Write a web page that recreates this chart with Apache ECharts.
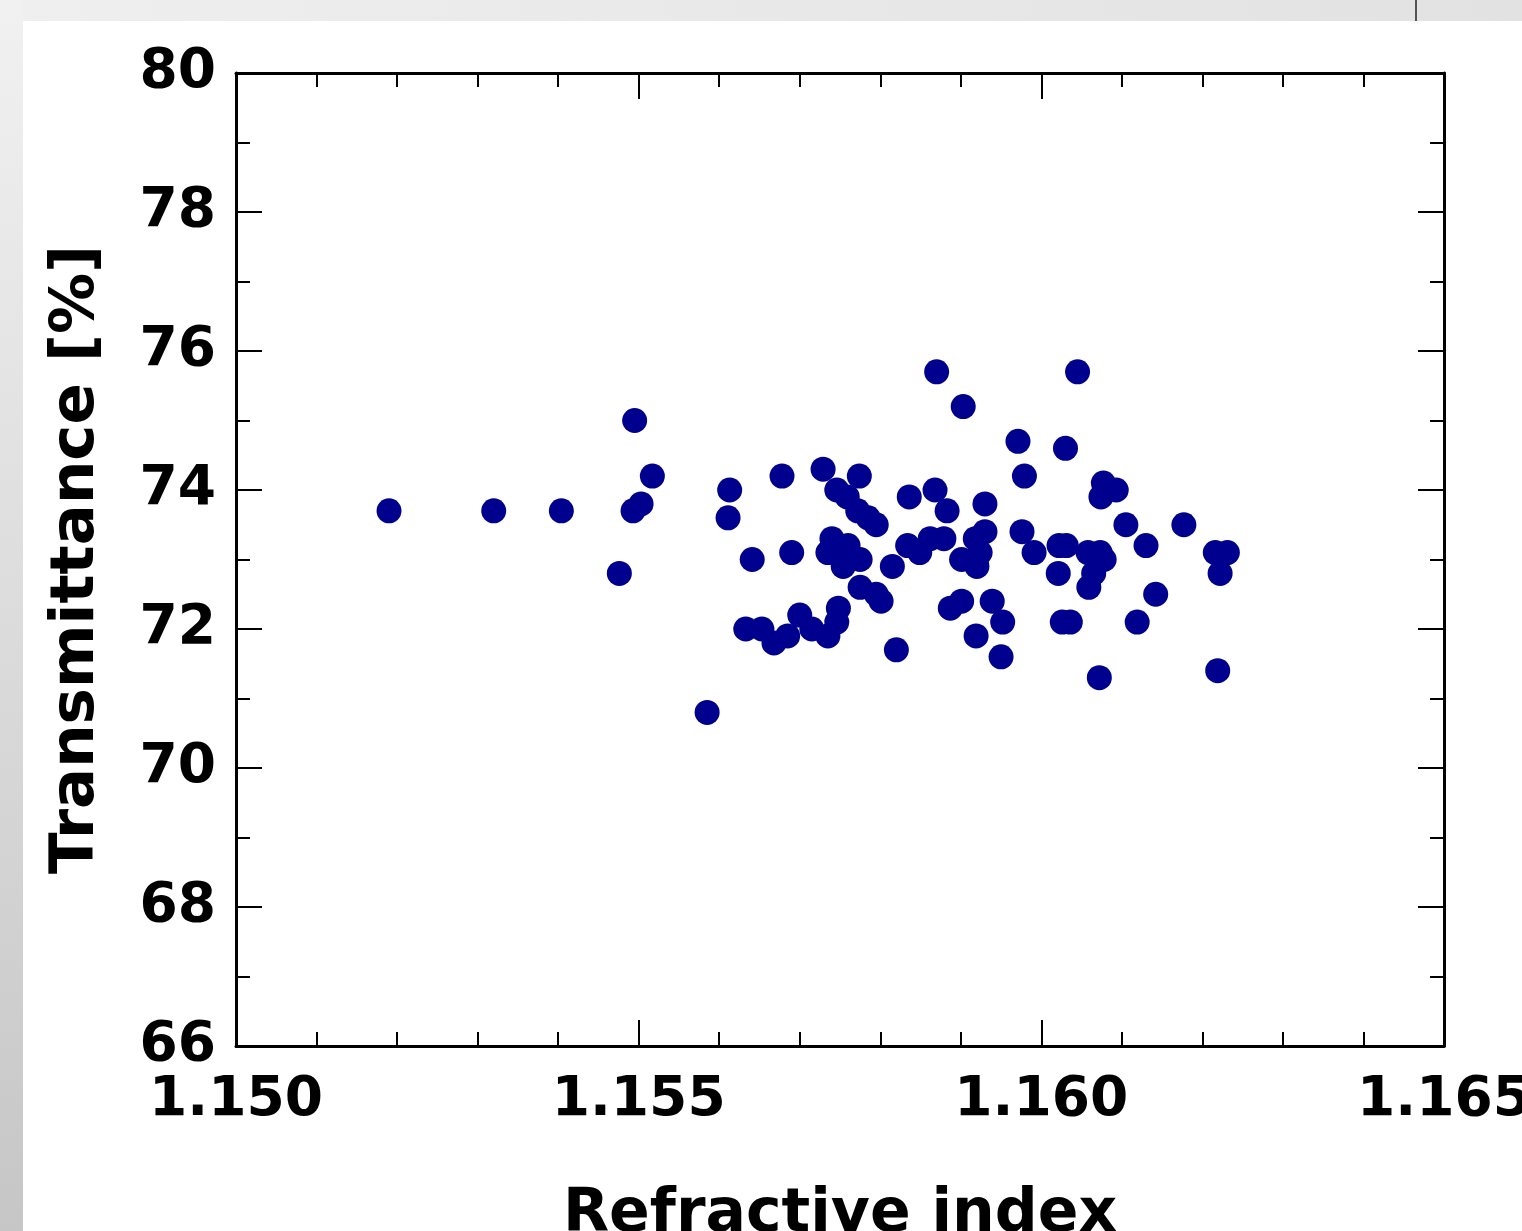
<!DOCTYPE html>
<html>
<head>
<meta charset="utf-8">
<script src="https://cdn.jsdelivr.net/npm/echarts@6/dist/echarts.min.js"></script>
<style>
html,body{margin:0;padding:0;background:#fff;overflow:hidden;}
#chart{width:1522px;height:1231px;}
</style>
</head>
<body>
<div id="chart"></div>
<script>
// Data
const refractiveIndex = [
  1.15190, 1.15320, 1.15404, 1.15495, 1.15517, 1.15503, 1.15493, 1.15476, 1.15585, 1.15613,
  1.15611, 1.15641, 1.15633, 1.15653, 1.15668, 1.15685, 1.15678, 1.15690, 1.15700, 1.15715,
  1.15735, 1.15746, 1.15748, 1.15729, 1.15746, 1.15759, 1.15774, 1.15772, 1.15785, 1.15795,
  1.15740, 1.15735, 1.15748, 1.15760, 1.15754, 1.15775, 1.15775, 1.15795, 1.15801, 1.15815,
  1.15820, 1.15836, 1.15834, 1.15849, 1.15862, 1.15868, 1.15870, 1.15879, 1.15883, 1.15887,
  1.15901, 1.15903, 1.15901, 1.15918, 1.15924, 1.15920, 1.15919, 1.15930, 1.15930, 1.15939,
  1.15952, 1.15950, 1.15971, 1.15979, 1.15976, 1.15991, 1.16022, 1.16021, 1.16030, 1.16031,
  1.16026, 1.16036, 1.16045, 1.16058, 1.16059, 1.16065, 1.16073, 1.16078, 1.16077, 1.16074,
  1.16093, 1.16072, 1.16105, 1.16130, 1.16119, 1.16142, 1.16177, 1.16216, 1.16231, 1.16222,
  1.16219
];
const transmittance = [
  73.7, 73.7, 73.7, 75.0, 74.2, 73.8, 73.7, 72.8, 70.8, 74.0,
  73.6, 73.0, 72.0, 72.0, 71.8, 71.9, 74.2, 73.1, 72.2, 72.0,
  71.9, 72.1, 72.3, 74.3, 74.0, 73.9, 74.2, 73.7, 73.6, 73.5,
  73.3, 73.1, 73.1, 73.2, 72.9, 73.0, 72.6, 72.5, 72.4, 72.9,
  71.7, 73.9, 73.2, 73.1, 73.3, 74.0, 75.7, 73.3, 73.7, 72.3,
  72.4, 75.2, 73.0, 73.3, 73.1, 72.9, 71.9, 73.8, 73.4, 72.4,
  72.1, 71.6, 74.7, 74.2, 73.4, 73.1, 73.2, 72.8, 74.6, 73.2,
  72.1, 72.1, 75.7, 73.1, 72.6, 72.8, 73.1, 73.0, 74.1, 73.9,
  74.0, 71.3, 73.5, 73.2, 72.1, 72.5, 73.5, 73.1, 73.1, 72.8,
  71.4
];
const xTicks = { min: 1.150, max: 1.165, interval: 0.005 };
const yTicks = { min: 66, max: 80, interval: 2 };
const xTitle = 'Refractive index';
const yTitle = 'Transmittance [%]';

const points = refractiveIndex.map((x, i) => [x, transmittance[i]]);

const FONT = 'DejaVu Sans';
const axisLine = { show: true, lineStyle: { color: '#000', width: 3 } };

function xAxisCfg(main) {
  return {
    type: 'value', position: main ? 'bottom' : 'top',
    min: xTicks.min, max: xTicks.max, interval: xTicks.interval,
    axisLine: axisLine,
    axisTick: { show: true, inside: true, length: 26, lineStyle: { color: '#000', width: 2 } },
    minorTick: { show: true, splitNumber: 5, length: 14, lineStyle: { color: '#000', width: 2 } },
    splitLine: { show: false },
    axisLabel: main ? {
      show: true, margin: 27, color: '#000', fontFamily: FONT, fontWeight: 'bold', fontSize: 55,
      formatter: v => v.toFixed(3)
    } : { show: false },
    name: main ? xTitle : '', nameLocation: 'middle', nameGap: 139,
    nameTextStyle: { color: '#000', fontFamily: FONT, fontWeight: 'bold', fontSize: 60 }
  };
}
function yAxisCfg(main) {
  return {
    type: 'value', position: main ? 'left' : 'right',
    min: yTicks.min, max: yTicks.max, interval: yTicks.interval,
    axisLine: axisLine,
    axisTick: { show: true, inside: true, length: 26, lineStyle: { color: '#000', width: 2 } },
    minorTick: { show: true, splitNumber: 2, length: 14, lineStyle: { color: '#000', width: 2 } },
    splitLine: { show: false },
    axisLabel: main ? {
      show: true, margin: 20, color: '#000', fontFamily: FONT, fontWeight: 'bold', fontSize: 55
    } : { show: false },
    name: main ? yTitle : '', nameLocation: 'middle', nameGap: 128,
    nameTextStyle: { color: '#000', fontFamily: FONT, fontWeight: 'bold', fontSize: 61 }
  };
}

const chart = echarts.init(document.getElementById('chart'), null, { renderer: 'canvas' });
chart.setOption({
  backgroundColor: '#fff',
  animation: false,
  graphic: [
    { type: 'rect', z: -10, silent: true, shape: { x: 0, y: 0, width: 1522, height: 21 },
      style: { fill: new echarts.graphic.LinearGradient(0, 0, 1, 0, [
        { offset: 0, color: '#efefef' }, { offset: 1, color: '#e2e2e2' }]) } },
    { type: 'rect', z: -10, silent: true, shape: { x: 0, y: 0, width: 23, height: 1231 },
      style: { fill: new echarts.graphic.LinearGradient(0, 0, 0, 1, [
        { offset: 0, color: '#f1f1f1' }, { offset: 0.5, color: '#dcdcdc' }, { offset: 1, color: '#c6c6c6' }]) } },
    { type: 'line', z: -9, silent: true, shape: { x1: 1416, y1: 0, x2: 1416, y2: 21 },
      style: { stroke: '#222', lineWidth: 1.5 } }
  ],
  grid: { left: 236, right: 78, top: 73, bottom: 185, containLabel: false, outerBoundsMode: 'none' },
  xAxis: [xAxisCfg(true), xAxisCfg(false)],
  yAxis: [yAxisCfg(true), yAxisCfg(false)],
  series: [{
    type: 'scatter', xAxisIndex: 0, yAxisIndex: 0,
    symbol: 'circle', symbolSize: 25,
    itemStyle: { color: '#00008f', opacity: 1 },
    data: points
  }]
});
</script>
</body>
</html>
